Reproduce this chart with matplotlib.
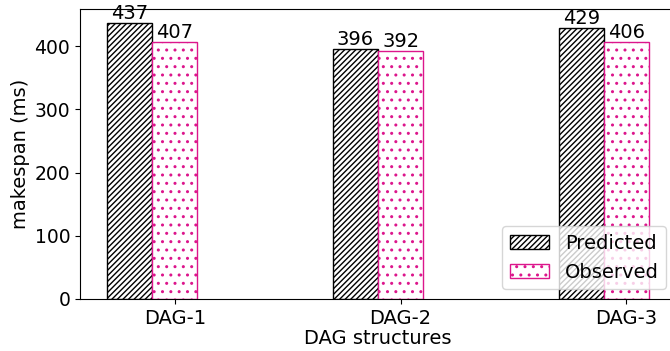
import matplotlib
matplotlib.use("Agg")
import matplotlib.pyplot as plt
import numpy as np

categories = ["DAG-1", "DAG-2", "DAG-3"]
predicted = [437, 396, 429]
observed = [407, 392, 406]

plt.rcParams["font.size"] = 14
plt.rcParams["hatch.linewidth"] = 1.0

fig = plt.figure(figsize=(6.7, 3.51), dpi=100)
ax = fig.add_axes([80 / 670, 52 / 351, 596 / 670, 290 / 351])

x = np.arange(len(categories))
w = 0.2
pink = "#dc168c"

b1 = ax.bar(x, predicted, w, color="white", edgecolor="black",
            hatch="//////", label="Predicted")
b2 = ax.bar(x + w, observed, w, color="white", edgecolor=pink,
            hatch="..", label="Observed")

for bars in (b1, b2):
    for rect in bars:
        h = rect.get_height()
        ax.text(rect.get_x() + rect.get_width() / 2, h, f"{int(h)}",
                ha="center", va="bottom", fontsize=14)

ax.set_ylim(0, max(predicted) * 1.05)
ax.set_xticks(x + w)
ax.set_xticklabels(categories)
ax.set_yticks([0, 100, 200, 300, 400])
ax.tick_params(axis="y", labelsize=13.5)
ax.set_xlabel("DAG structures", labelpad=1)
ax.set_ylabel("makespan (ms)", labelpad=3)
ax.legend(loc="lower right", fontsize=14)

fig.savefig("out.png", dpi=100)
